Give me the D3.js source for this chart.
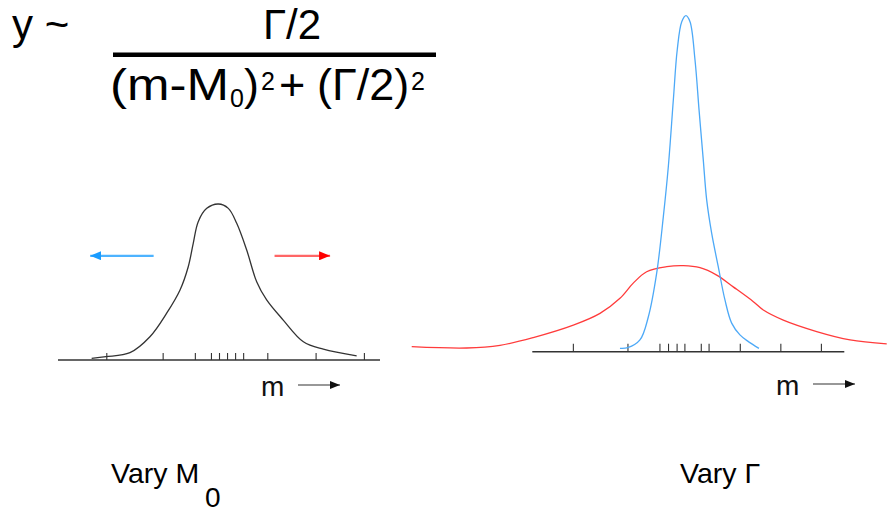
<!DOCTYPE html>
<html><head><meta charset="utf-8">
<script src="https://cdn.jsdelivr.net/npm/d3@7"></script>
<style>
html,body{margin:0;padding:0;background:#fff;}
svg{display:block;font-family:"Liberation Sans",Arial,sans-serif;}
</style></head>
<body>
<svg id="chart" width="887" height="514"></svg>
<script>
// ---- data ----
const leftTicks = [-7, -3.5, -1.5, -0.5, 0, 0.5, 1, 1.5, 3, 6, 9];
const rightTicks = [-7.4, -3.9, -1.85, -1.3, -0.75, -0.25, 0.8, 1.3, 3.3, 5.9, 8.5];
// Vary M0 curve: [m, y]
const curveM0 = [[-7.91,0.011],[-7.02,0.021],[-5.53,0.047],[-4.29,0.149],[-3.25,0.30],[-2.42,0.449],
  [-1.91,0.598],[-1.60,0.748],[-1.29,0.887],[-0.76,0.972],[-0.04,1.0],[0.58,0.972],[1.10,0.876],
  [1.72,0.705],[2.34,0.502],[2.96,0.385],[3.99,0.256],[5.24,0.117],[6.48,0.069],[8.55,0.026]];
// Vary Gamma: narrow (blue) and wide (red)
const narrowGamma = [[-4.38,0.010],[-3.88,0.012],[-3.10,0.035],[-2.56,0.104],[-2.03,0.233],[-1.60,0.402],
  [-1.28,0.551],[-0.96,0.749],[-0.71,0.898],[-0.42,0.982],[-0.15,1.0],[0.11,0.982],[0.43,0.868],
  [0.69,0.719],[0.96,0.571],[1.18,0.451],[1.50,0.352],[1.92,0.253],[2.35,0.154],[2.78,0.085],
  [3.31,0.050],[3.85,0.030],[4.53,0.010]];
const wideGamma = [[-17.73,0.015],[-14.21,0.011],[-12.07,0.019],[-9.94,0.042],[-7.37,0.079],[-5.66,0.114],
  [-4.38,0.159],[-3.53,0.204],[-2.67,0.238],[-1.38,0.253],[-0.32,0.256],[0.75,0.250],[1.82,0.228],
  [2.88,0.193],[4.17,0.149],[4.81,0.124],[6.09,0.094],[8.23,0.060],[10.37,0.035],[12.72,0.023]];
const shiftArrows = [{dir:-1, color:"#4db3ff", head:"#1a9cff"}, {dir:1, color:"#ff6666", head:"#ff0000"}];
const axisLabel = "m";
const leftTitle = "Vary M";
const leftTitleSub = "0";
const rightTitle = "Vary Γ";

const svg = d3.select("#chart");

// marker defs
const defs = svg.append("defs");
function marker(id, color, w, h){
  defs.append("marker").attr("id", id).attr("viewBox", `0 0 ${w} ${h}`)
    .attr("refX", w).attr("refY", h/2).attr("markerWidth", w).attr("markerHeight", h)
    .attr("markerUnits", "userSpaceOnUse").attr("orient", "auto")
    .append("path").attr("d", `M0,0L${w},${h/2}L0,${h}Z`).attr("fill", color);
}
marker("ahBlack", "#111", 10, 8);
shiftArrows.forEach((a,i)=>marker("ah"+i, a.head, 11, 9));

// ---- formula ----
const f = svg.append("g").attr("fill", "#000");
f.append("text").attr("x", 12).attr("y", 38.5).attr("font-size", 42).text("y ~");
f.append("text").attr("x", 292).attr("y", 38.5).attr("font-size", 42).attr("text-anchor", "middle").text("Γ/2");
f.append("rect").attr("x", 113).attr("y", 52.5).attr("width", 323).attr("height", 4.5);
const denParts = [
  {t:"(m-M", x:110, y:100, fs:45, len:119},
  {t:"0", x:230, y:107, fs:25},
  {t:")", x:244, y:100, fs:45},
  {t:"2", x:261, y:90, fs:25},
  {t:"+", x:279, y:100, fs:45},
  {t:"(Γ/2)", x:317, y:100, fs:45},
  {t:"2", x:411, y:90, fs:25}
];
denParts.forEach(p=>{
  const t = f.append("text").attr("x", p.x).attr("y", p.y).attr("font-size", p.fs).text(p.t);
  if (p.len) t.attr("textLength", p.len).attr("lengthAdjust", "spacingAndGlyphs");
});

// ---- left panel ----
const xL = d3.scaleLinear().domain([-10, 10]).range([58, 380]);
const yL = d3.scaleLinear().domain([0, 1]).range([360, 204]);
const gL = svg.append("g");
const axL = gL.append("g").attr("transform", `translate(0,${yL(0)})`)
  .call(d3.axisTop(xL).tickValues(leftTicks).tickSize(7).tickFormat(""));
axL.select(".domain").attr("d", `M${xL(-10)},0H${xL(10)}`).attr("stroke", "#333").attr("stroke-width", 1.6);
axL.selectAll(".tick line").attr("stroke", "#333").attr("stroke-width", 1.1);

const line = (xs, ys) => d3.line().x(d=>xs(d[0])).y(d=>ys(d[1])).curve(d3.curveCatmullRom.alpha(0.5));
gL.append("path").datum(curveM0).attr("d", line(xL, yL)).attr("fill", "none")
  .attr("stroke", "#333").attr("stroke-width", 1.3);

// shift arrows
shiftArrows.forEach((a,i)=>{
  const x0 = a.dir < 0 ? xL(-4.06) : xL(3.45);
  const x1 = a.dir < 0 ? xL(-8.0) : xL(6.9);
  gL.append("line").attr("x1", x0).attr("x2", x1).attr("y1", yL(0.668)).attr("y2", yL(0.668))
    .attr("stroke", a.color).attr("stroke-width", 2.2).attr("marker-end", `url(#ah${i})`);
});

// m labels
function mLabel(g, x, y){
  g.append("text").attr("x", x).attr("y", y).attr("font-size", 28).attr("fill", "#111").text(axisLabel);
  g.append("line").attr("x1", x + 37).attr("x2", x + 79).attr("y1", y - 11).attr("y2", y - 11)
    .attr("stroke", "#333").attr("stroke-width", 1.2).attr("marker-end", "url(#ahBlack)");
}
mLabel(gL, 261, 396);

// ---- right panel ----
const xR = d3.scaleLinear().domain([-10, 10]).range([532.3, 844.3]);
const yR = d3.scaleLinear().domain([0, 1]).range([351.7, 15.7]);
const gR = svg.append("g");
const axR = gR.append("g").attr("transform", `translate(0,${yR(0)})`)
  .call(d3.axisTop(xR).tickValues(rightTicks).tickSize(8).tickFormat(""));
axR.select(".domain").attr("d", `M${xR(-10)},0H${xR(10)}`).attr("stroke", "#333").attr("stroke-width", 1.6);
axR.selectAll(".tick line").attr("stroke", "#333").attr("stroke-width", 1.1);

gR.append("path").datum(wideGamma).attr("d", line(xR, yR)).attr("fill", "none")
  .attr("stroke", "#ff3b3b").attr("stroke-width", 1.3);
gR.append("path").datum(narrowGamma).attr("d", line(xR, yR)).attr("fill", "none")
  .attr("stroke", "#4da9f7").attr("stroke-width", 1.3);
mLabel(gR, 776, 395);

// ---- titles ----
svg.append("text").attr("x", 111).attr("y", 483).attr("font-size", 28.5).attr("fill", "#000").text(leftTitle);
svg.append("text").attr("x", 205).attr("y", 507).attr("font-size", 28).attr("fill", "#000").text(leftTitleSub);
svg.append("text").attr("x", 680).attr("y", 483).attr("font-size", 28.5).attr("fill", "#000").text(rightTitle);
</script>
</body></html>
